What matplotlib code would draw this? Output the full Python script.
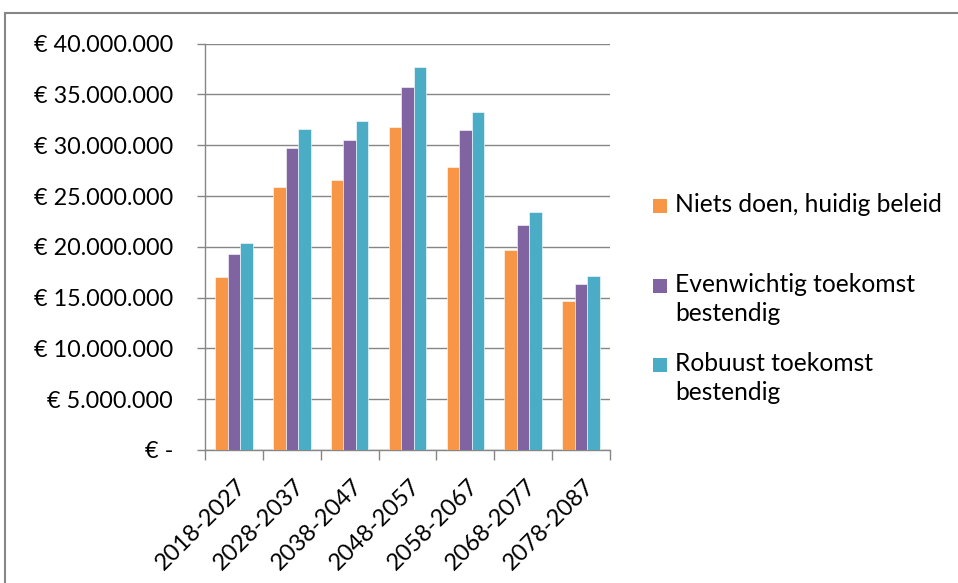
import numpy as np
import matplotlib
matplotlib.use("Agg")
from matplotlib import pyplot as plt
from matplotlib.patches import Rectangle
from matplotlib.ticker import FuncFormatter
from matplotlib.transforms import ScaledTranslation

plt.rcParams["font.family"] = ["Lato", "DejaVu Sans"]

periods = ["2018-2027", "2028-2037", "2038-2047", "2048-2057", "2058-2067", "2068-2077", "2078-2087"]
niets_doen = [17.0e6, 25.9e6, 26.6e6, 31.8e6, 27.9e6, 19.7e6, 14.7e6]
evenwichtig = [19.3e6, 29.7e6, 30.5e6, 35.7e6, 31.5e6, 22.2e6, 16.3e6]
robuust = [20.4e6, 31.6e6, 32.4e6, 37.7e6, 33.3e6, 23.45e6, 17.1e6]

series_names = ["Niets doen, huidig beleid", "Evenwichtig toekomst\nbestendig", "Robuust toekomst\nbestendig"]
colors = ["#F79646", "#8064A2", "#4BACC6"]
grid_color = "#868686"


def euro(v, pos):
    if v == 0:
        return "€ -"
    # dutch thousands separator
    return "€ " + f"{int(v):,}".replace(",", ".")


fig = plt.figure(figsize=(9.58, 5.83), dpi=100)
ax = fig.add_axes([205 / 958, 1 - 450 / 583, 405 / 958, (450 - 43.7) / 583])

x = np.arange(len(periods))
w = 0.217
for i, (vals, c) in enumerate(zip([niets_doen, evenwichtig, robuust], colors)):
    ax.bar(x + (i - 1) * w, vals, width=w, color=c, edgecolor="white", linewidth=0.4, zorder=3)

ax.set_xlim(-0.5, len(periods) - 0.5)
ax.set_ylim(0, 40e6)
ax.set_yticks(np.arange(0, 40e6 + 1, 5e6))
ax.yaxis.set_major_formatter(FuncFormatter(euro))
ax.grid(axis="y", color=grid_color, linewidth=1.0, zorder=0)

ax.set_xticks(x)
ax.set_xticklabels(periods, rotation=45, ha="right", rotation_mode="anchor")
ax.set_xticks(np.arange(-0.5, len(periods), 1), minor=True)
ax.tick_params(axis="x", which="major", length=0, pad=18, labelsize=17)
ax.tick_params(axis="x", which="minor", length=7, width=1.0, color=grid_color)
ax.tick_params(axis="y", length=6, width=1.0, color=grid_color, pad=17, labelsize=16.8)
shift = ScaledTranslation(2 / 100, 0, fig.dpi_scale_trans)
for lbl in ax.get_xticklabels():
    lbl.set_transform(lbl.get_transform() + shift)

for s in ["top", "right"]:
    ax.spines[s].set_visible(False)
for s in ["left", "bottom"]:
    ax.spines[s].set_color(grid_color)
    ax.spines[s].set_linewidth(1.0)

# legend drawn by hand, handles aligned with first text line like excel
leg_y = [206, 286, 365]
for name, c, yy in zip(series_names, colors, leg_y):
    fig.add_artist(Rectangle((653 / 958, 1 - (yy + 7) / 583), 14 / 958, 14 / 583,
                             transform=fig.transFigure, facecolor=c, edgecolor="none"))
    fig.text(675 / 958, 1 - (yy - 13) / 583, name, fontsize=17.7, va="top", ha="left",
             linespacing=1.32)

# outer chart frame
fig.add_artist(Rectangle((5 / 958, -0.1), 1.2, 1 - 13 / 583 + 0.1, transform=fig.transFigure,
                         facecolor="none", edgecolor=grid_color, linewidth=1.5))

fig.savefig("out.png", dpi=100)
